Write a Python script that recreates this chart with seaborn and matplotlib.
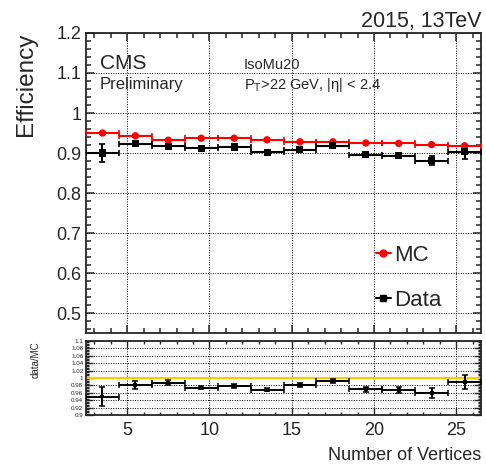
import matplotlib
matplotlib.use("Agg")
import matplotlib.pyplot as plt
import numpy as np
import pandas as pd
import seaborn as sns
from matplotlib.lines import Line2D
from matplotlib.ticker import MultipleLocator, FuncFormatter

# Number-of-vertices bins (centres, half-width 1)
vertices = [3.5, 5.5, 7.5, 9.5, 11.5, 13.5, 15.5, 17.5, 19.5, 21.5, 23.5, 25.5]
bin_half_width = [1.0] * 12

# Efficiencies
mc_eff = [0.950, 0.943, 0.932, 0.937, 0.937, 0.933, 0.928, 0.928, 0.925, 0.924, 0.921, 0.918]
mc_err = [0.001, 0.001, 0.001, 0.001, 0.001, 0.001, 0.001, 0.001, 0.001, 0.001, 0.001, 0.001]
data_eff = [0.900, 0.923, 0.917, 0.912, 0.915, 0.902, 0.908, 0.918, 0.896, 0.893, 0.881, 0.903]
data_err = [0.022, 0.006, 0.004, 0.004, 0.004, 0.003, 0.004, 0.004, 0.005, 0.006, 0.012, 0.017]

# Scale factor data/MC
ratio = [0.950, 0.981, 0.987, 0.974, 0.978, 0.968, 0.981, 0.991, 0.970, 0.968, 0.960, 0.988]
ratio_err = [0.026, 0.011, 0.007, 0.005, 0.006, 0.004, 0.005, 0.005, 0.007, 0.008, 0.014, 0.019]

df = pd.DataFrame({"nvtx": vertices, "mc": mc_eff, "data": data_eff, "ratio": ratio})

sns.set_theme(style="ticks")
plt.rcParams["font.family"] = ["Liberation Sans", "DejaVu Sans"]
plt.rcParams["mathtext.fontset"] = "custom"
plt.rcParams["mathtext.rm"] = "Liberation Sans"
plt.rcParams["axes.linewidth"] = 1.3

W, H = 486, 472
fig = plt.figure(figsize=(W / 100, H / 100), dpi=100)


def frac(x0, y0, x1, y1):
    return [x0 / W, 1 - y1 / H, (x1 - x0) / W, (y1 - y0) / H]


ax = fig.add_axes(frac(86, 33, 481, 333))
axr = fig.add_axes(frac(86, 341, 481, 415))

grid_kw = dict(color="black", linestyle=(0, (1, 1.5)), linewidth=0.7)

# ---- upper panel: efficiencies
ax.errorbar(vertices, mc_eff, xerr=bin_half_width, yerr=mc_err, fmt="none",
            ecolor="red", elinewidth=1.5, capsize=2, capthick=1.2, zorder=3)
ax.errorbar(vertices, data_eff, xerr=bin_half_width, yerr=data_err, fmt="none",
            ecolor="black", elinewidth=1.5, capsize=2, capthick=1.2, zorder=3)
sns.scatterplot(data=df, x="nvtx", y="mc", ax=ax, marker="o", color="red",
                s=28, edgecolor="none", zorder=4, legend=False)
sns.scatterplot(data=df, x="nvtx", y="data", ax=ax, marker="s", color="black",
                s=26, edgecolor="none", zorder=4, legend=False)

ax.set_xlim(2.5, 26.5)
ax.set_ylim(0.45, 1.2)
ax.xaxis.set_major_locator(MultipleLocator(5))
ax.xaxis.set_minor_locator(MultipleLocator(1))
ax.yaxis.set_major_locator(MultipleLocator(0.1))
ax.yaxis.set_minor_locator(MultipleLocator(0.02))
ax.yaxis.set_major_formatter(FuncFormatter(lambda v, p: f"{round(v, 2):g}"))
ax.tick_params(which="both", direction="in", top=True, right=True,
               labelbottom=False, labelsize=13, width=1.1)
ax.tick_params(which="major", length=6)
ax.tick_params(which="minor", length=3.5)
ax.grid(True, which="major", **grid_kw)
ax.set_xlabel("")
ax.set_ylabel("Efficiency", fontsize=17.5, loc="top", labelpad=14)

handles = [
    Line2D([0], [0], color="red", marker="o", lw=1.5, ms=5),
    Line2D([0], [0], color="black", marker="s", lw=1.5, ms=5),
]
ax.legend(handles, ["MC", "Data"], loc="center left", bbox_to_anchor=(0.733, 0.183),
          frameon=False, fontsize=16, handlelength=0.7, handletextpad=0.15,
          labelspacing=1.08, borderpad=0, borderaxespad=0)

# ---- lower panel: data/MC
axr.axhline(1.0, color="#ffc800", lw=1.6, zorder=2)
axr.errorbar(vertices, ratio, xerr=bin_half_width, yerr=ratio_err, fmt="none",
             ecolor="black", elinewidth=1.4, capsize=2, capthick=1.1, zorder=3)
sns.scatterplot(data=df, x="nvtx", y="ratio", ax=axr, marker="s", color="black",
                s=8, edgecolor="none", zorder=4, legend=False)
axr.set_xlim(2.5, 26.5)
axr.set_ylim(0.9, 1.1)
axr.xaxis.set_major_locator(MultipleLocator(5))
axr.xaxis.set_minor_locator(MultipleLocator(1))
axr.yaxis.set_major_locator(MultipleLocator(0.02))
axr.yaxis.set_minor_locator(MultipleLocator(0.004))
axr.yaxis.set_major_formatter(FuncFormatter(lambda v, p: f"{round(v, 2):g}"))
axr.tick_params(which="both", direction="in", top=True, right=True, width=1.0)
axr.tick_params(axis="x", labelsize=13, pad=5)
axr.tick_params(axis="y", labelsize=4.5, pad=2)
axr.tick_params(which="major", length=5)
axr.tick_params(which="minor", length=2.5)
axr.grid(True, which="major", **grid_kw)
axr.set_xlabel("Number of Vertices", fontsize=13, loc="right", labelpad=6)
axr.set_ylabel("data/MC", fontsize=7, loc="top", labelpad=22)

# ---- annotations
def ftext(x, y, s, **kw):
    fig.text(x / W, 1 - y / H, s, va="baseline", **kw)


ftext(481, 27, "2015, 13TeV", ha="right", fontsize=15.5)
ftext(100, 69, "CMS", fontsize=15)
ftext(100, 89, "Preliminary", fontsize=12)
ftext(244, 69, "IsoMu20", fontsize=10.5)
ftext(244, 89, r"P$_\mathregular{T}$>22 GeV, |η| < 2.4", fontsize=10.5)

fig.savefig("out.png", dpi=100)
